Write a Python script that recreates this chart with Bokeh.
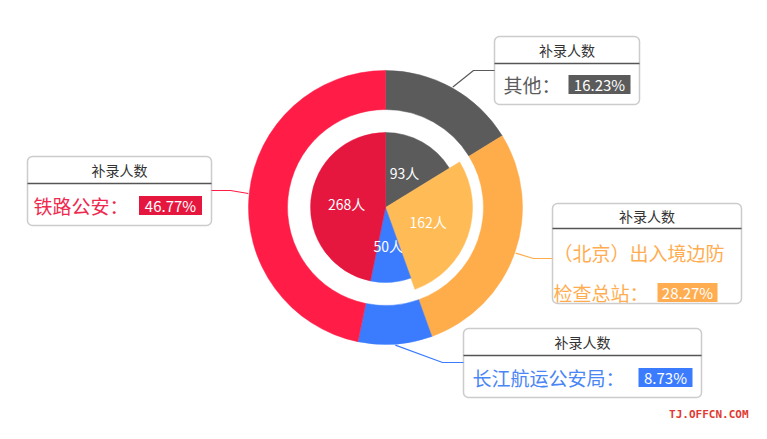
import numpy as np
from bokeh.plotting import figure
from bokeh.models import Range1d, BoxAnnotation
from bokeh.embed import file_html
from bokeh.resources import INLINE
from bokeh.core.properties import value

# ---------------- data ----------------
categories = ["其他", "（北京）出入境边防检查总站", "长江航运公安局", "铁路公安"]
counts = [93, 162, 50, 268]
unit = "人"
header_text = "补录人数"
watermark = "TJ.OFFCN.COM"

# ---------------- styles ----------------
FONT = "Noto Sans CJK SC"
outer_colors = ["#5b5b5b", "#ffac4a", "#3b7cff", "#ff1c47"]
inner_colors = ["#5b5b5b", "#ffbb55", "#3b7cff", "#e6173f"]
text_colors = ["#5b5b5b", "#ffad50", "#4a86f5", "#f0294f"]
badge_colors = ["#5b5b5b", "#ffad50", "#3b7cff", "#e6173f"]
HIGHLIGHT = 1  # emphasised slice of the inner pie

H = 439


def Y(v):
    return H - v


p = figure(width=751, height=423, x_range=Range1d(0, 751), y_range=Range1d(16, 439),
           output_backend="svg", toolbar_location=None, min_border=0)
p.axis.visible = False
p.grid.visible = False
p.outline_line_color = None
p.background_fill_color = "white"

total = sum(counts)
frac = np.array(counts) / total
cum = np.concatenate([[0.0], np.cumsum(frac)])
start = np.pi / 2 - 2 * np.pi * cum[:-1]
end = np.pi / 2 - 2 * np.pi * cum[1:]
mid = (start + end) / 2
cx, cy = 385, Y(207)

# outer ring
p.annular_wedge(x=cx, y=cy, inner_radius=98, outer_radius=137,
                start_angle=list(start), end_angle=list(end), direction="clock",
                fill_color=outer_colors, line_color=outer_colors, line_width=0.5)

# inner pie
radii = [87 if i == HIGHLIGHT else 75 for i in range(len(counts))]
p.wedge(x=cx, y=cy, radius=radii, start_angle=list(start), end_angle=list(end),
        direction="clock", fill_color=inner_colors, line_color=inner_colors, line_width=0.5)

lab_r = np.array(radii) * 0.52
p.text(x=list(cx + lab_r * np.cos(mid)), y=list(cy + lab_r * np.sin(mid)),
       text=[f"{c}{unit}" for c in counts], text_color="white",
       text_font=value(FONT), text_font_size="14px",
       text_align="center", text_baseline="middle")

# ---------------- callouts ----------------
boxes = [
    dict(l=494, r=639, t=36, b=104, div=63),
    dict(l=552, r=741, t=203, b=303, div=228),
    dict(l=463, r=701, t=328, b=397, div=355),
    dict(l=27, r=211, t=156, b=225, div=183),
]
name_pos = [(503, [84]), (553, [252, 292]), (472, [377]), (33, [205])]
badge_pos = [(599, 84, 62), (687, 292, 60), (665, 377, 54), (170, 205, 63)]
elbows = [((473, 70), (494, 70)), ((533, 258), (552, 258)),
          ((442, 362), (463, 362)), ((230, 190), (211, 190))]

for i, b in enumerate(boxes):
    p.add_layout(BoxAnnotation(left=b["l"], right=b["r"], top=Y(b["t"]), bottom=Y(b["b"]),
                               fill_color="white", fill_alpha=1.0, line_color="#555555",
                               line_width=1.5, border_radius=5, level="underlay"))
    p.segment(x0=[b["l"]], y0=[Y(b["div"])], x1=[b["r"]], y1=[Y(b["div"])],
              line_color="#555555", line_width=1.3)
    p.text(x=[(b["l"] + b["r"]) / 2], y=[Y((b["t"] + b["div"]) / 2)], text=[header_text],
           text_color="#333333", text_font=value(FONT), text_font_size="14px",
           text_align="center", text_baseline="middle")

    name = categories[i]
    xs, ys = name_pos[i]
    if len(ys) == 2:
        lines = [name[:9], name[9:] + "："]
    else:
        lines = [name + "："]
    p.text(x=[xs] * len(lines), y=[Y(v) for v in ys], text=lines,
           text_color=text_colors[i], text_font=value(FONT), text_font_size="19px",
           text_align="left", text_baseline="middle")

    bx, by, bw = badge_pos[i]
    p.rect(x=[bx], y=[Y(by)], width=bw, height=19, fill_color=badge_colors[i],
           line_color=None)
    p.text(x=[bx], y=[Y(by)], text=[f"{frac[i] * 100:.2f}%"], text_color="white",
           text_font=value(FONT), text_font_size="15px",
           text_align="center", text_baseline="middle")

    sx = cx + 138 * np.cos(mid[i])
    sy = cy + 138 * np.sin(mid[i])
    (ex, ey), (fx, fy) = elbows[i]
    p.line(x=[sx, ex, fx], y=[sy, Y(ey), Y(fy)], line_color=outer_colors[i], line_width=1.2)

p.text(x=[748], y=[Y(414)], text=[watermark], text_color="#e03a32",
       text_font=value("DejaVu Sans Mono"), text_font_style="bold", text_font_size="11px",
       text_align="right", text_baseline="middle")

open("out.html", "w").write(file_html(p, INLINE))
